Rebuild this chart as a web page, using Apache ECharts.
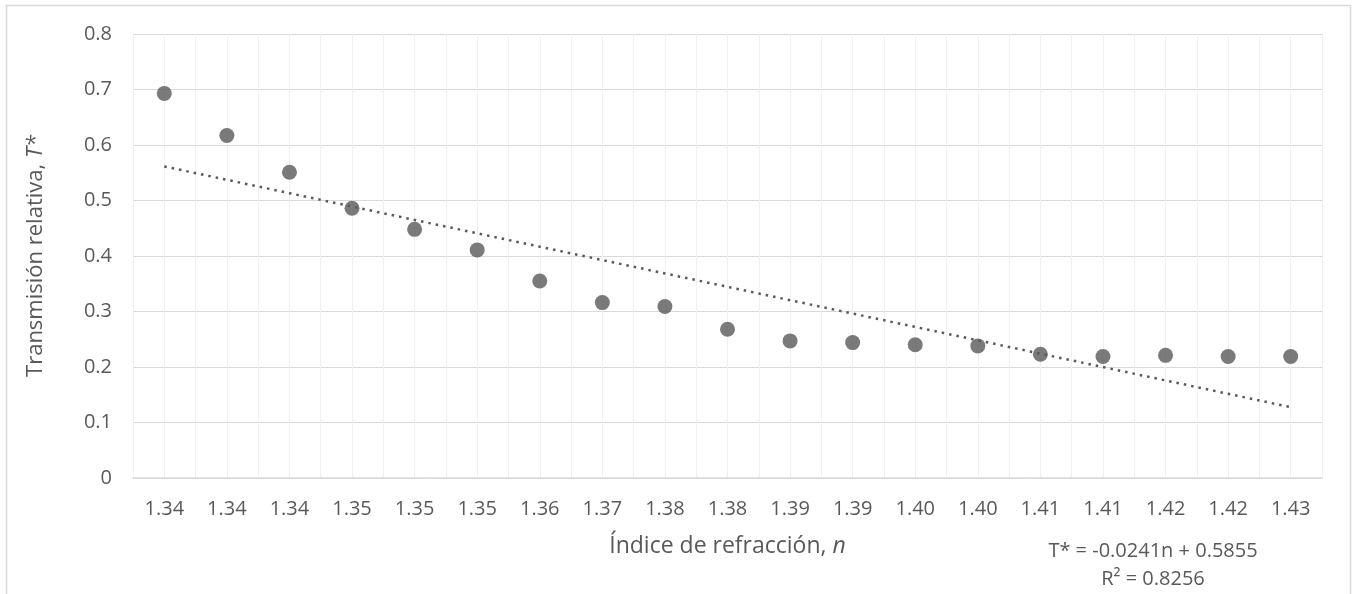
<!DOCTYPE html>
<html>
<head>
<meta charset="utf-8">
<script src="https://cdn.jsdelivr.net/npm/echarts@6/dist/echarts.min.js"></script>
<style>html,body{margin:0;padding:0;background:#fff}#c{width:1352px;height:594px}</style>
</head>
<body>
<div id="c"></div>
<script>
const categories = ['1.34','1.34','1.34','1.35','1.35','1.35','1.36','1.37','1.38','1.38','1.39','1.39','1.40','1.40','1.41','1.41','1.42','1.42','1.43'];
const transmission = [0.693,0.617,0.551,0.486,0.448,0.411,0.355,0.316,0.309,0.268,0.247,0.244,0.240,0.238,0.223,0.219,0.221,0.219,0.219];
const yTicks = {min: 0, max: 0.8, interval: 0.1};
const trendSlope = -0.0241;
const trendIntercept = 0.5855;
const trendLabel = 'T* = -0.0241n + 0.5855';
const r2Label = 'R² = 0.8256';

const trend = categories.map((c, i) => +(trendSlope * (i + 1) + trendIntercept).toFixed(4));

const FONT = 'Open Sans';
const TXT = '#595959';
const LBL = 20;
const TTL = 22;
const chart = echarts.init(document.getElementById('c'));
chart.setOption({
  animation: false,
  backgroundColor: '#fff',
  textStyle: {fontFamily: FONT},
  grid: {left: 133, right: 30, top: 34, bottom: 116},
  xAxis: [{
    type: 'category',
    data: categories,
    boundaryGap: true,
    axisTick: {show: false},
    axisLine: {lineStyle: {color: '#d9d9d9', width: 1.5}},
    axisLabel: {color: TXT, fontSize: LBL, fontFamily: FONT, margin: 21, interval: 0},
    splitLine: {show: false},
    name: 'Índice de refracción, {i|n}',
    nameLocation: 'middle',
    nameGap: 57,
    nameTextStyle: {color: TXT, fontSize: 23, fontFamily: FONT,
      rich: {i: {fontStyle: 'italic', color: TXT, fontSize: 23, fontFamily: FONT}}}
  }, {
    type: 'value',
    min: 0, max: categories.length * 2, interval: 1,
    position: 'bottom',
    axisLine: {show: false}, axisTick: {show: false}, axisLabel: {show: false},
    splitLine: {show: true, lineStyle: {color: '#efefef', width: 1}}
  }],
  yAxis: {
    type: 'value',
    min: yTicks.min, max: yTicks.max, interval: yTicks.interval,
    axisLine: {show: false}, axisTick: {show: false},
    axisLabel: {color: TXT, fontSize: LBL, fontFamily: FONT, margin: 21,
      formatter: v => v === 0 ? '0' : v.toFixed(1)},
    splitLine: {lineStyle: {color: '#d9d9d9', width: 1}},
    name: 'Transmisión relativa, {i|T*}',
    nameLocation: 'middle',
    nameGap: 86,
    nameTextStyle: {color: TXT, fontSize: TTL, fontFamily: FONT,
      rich: {i: {fontStyle: 'italic', color: TXT, fontSize: TTL, fontFamily: FONT}}}
  },
  series: [{
    type: 'line',
    xAxisIndex: 0,
    data: trend,
    symbol: 'none',
    lineStyle: {color: '#595959', width: 2.5, type: [2.5, 5]},
    z: 2
  }, {
    type: 'scatter',
    xAxisIndex: 0,
    data: transmission,
    symbol: 'circle',
    symbolSize: 15,
    itemStyle: {color: '#595959'},
    z: 3
  }],
  graphic: [{
    type: 'rect',
    shape: {x: 6.5, y: 5.5, width: 1344, height: 620},
    style: {fill: 'none', stroke: '#d9d9d9', lineWidth: 1.5},
    silent: true
  }, {
    type: 'text', x: 1153, y: 551,
    style: {text: trendLabel, fill: TXT, font: LBL + 'px "' + FONT + '"', textAlign: 'center', textVerticalAlign: 'middle'}
  }, {
    type: 'text', x: 1153, y: 579,
    style: {text: r2Label, fill: TXT, font: LBL + 'px "' + FONT + '"', textAlign: 'center', textVerticalAlign: 'middle'}
  }]
});
</script>
</body>
</html>
